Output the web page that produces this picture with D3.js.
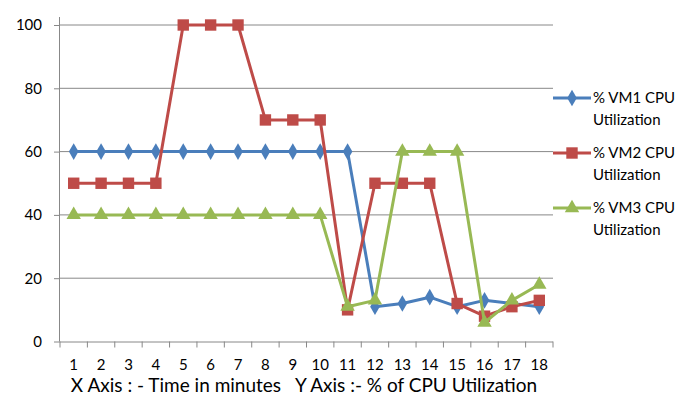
<!DOCTYPE html>
<html lang="en">
<head>
<meta charset="UTF-8">
<title>CPU Utilization</title>
<script src="https://d3js.org/d3.v7.min.js"></script>
<style>
    body { margin: 0; background: #fff; }
    text { font-family: Lato, "Liberation Sans", Arial, sans-serif; fill: #000; }
</style>
</head>
<body>
<svg width="696" height="403"></svg>
<script>
    // minutes on the x axis
    const minutes = [1, 2, 3, 4, 5, 6, 7, 8, 9, 10, 11, 12, 13, 14, 15, 16, 17, 18];
    const vm1 = [60, 60, 60, 60, 60, 60, 60, 60, 60, 60, 60, 11, 12, 14, 11, 13, 12, 11];
    const vm2 = [50, 50, 50, 50, 100, 100, 100, 70, 70, 70, 10, 50, 50, 50, 12, 8, 11, 13];
    const vm3 = [40, 40, 40, 40, 40, 40, 40, 40, 40, 40, 11, 13, 60, 60, 60, 6, 13, 18];
    const yTicks = [0, 20, 40, 60, 80, 100];
    const seriesNames = ["% VM1 CPU Utilization", "% VM2 CPU Utilization", "% VM3 CPU Utilization"];

    const svg = d3.select("svg");
    const plotLeft = 60, plotRight = 553, plotTop = 25, plotBottom = 341.5;

    const x = d3.scaleBand().domain(minutes).range([plotLeft, plotRight]);
    const y = d3.scaleLinear().domain([0, 100]).range([plotBottom, plotTop]);

    const series = [
        { name: seriesNames[0], values: vm1, color: "#4a7ebb", shape: d3.symbolDiamond, size: 80 },
        { name: seriesNames[1], values: vm2, color: "#be4b48", shape: d3.symbolSquare, size: 130 },
        { name: seriesNames[2], values: vm3, color: "#98b954", shape: d3.symbolTriangle, size: 90 }
    ];

    // gridlines
    svg.append("g").selectAll("line")
        .data(yTicks.filter(d => d > 0))
        .join("line")
        .attr("x1", plotLeft).attr("x2", plotRight)
        .attr("y1", d => y(d)).attr("y2", d => y(d))
        .attr("stroke", "#888").attr("stroke-width", 1);

    // y axis
    const yAxis = svg.append("g")
        .attr("transform", `translate(${plotLeft},0)`)
        .call(d3.axisLeft(y).tickValues(yTicks).tickSize(6).tickPadding(12));
    yAxis.select(".domain").attr("stroke", "#888").attr("d", `M-0.5,${plotBottom}V${plotTop - 8}`);
    yAxis.selectAll(".tick line").attr("stroke", "#888");
    yAxis.selectAll("text").style("font-size", "15px").attr("fill", "#111");

    // x axis
    const xAxis = svg.append("g")
        .attr("transform", `translate(0,${plotBottom})`)
        .call(d3.axisBottom(x).tickSize(0).tickPadding(18));
    xAxis.select(".domain").attr("stroke", "#888").attr("d", `M${plotLeft},0.5H${plotRight}`);
    xAxis.selectAll("text").style("font-size", "15px").attr("fill", "#111");
    // ticks between categories
    xAxis.append("g").selectAll("line")
        .data(minutes.concat([minutes.length + 1]))
        .join("line")
        .attr("x1", (d, i) => plotLeft + i * x.step()).attr("x2", (d, i) => plotLeft + i * x.step())
        .attr("y1", 0).attr("y2", 6)
        .attr("stroke", "#888");

    const line = d3.line()
        .x((d, i) => x(minutes[i]) + x.bandwidth() / 2)
        .y(d => y(d));

    series.forEach(s => {
        svg.append("path")
            .datum(s.values)
            .attr("fill", "none")
            .attr("stroke", s.color)
            .attr("stroke-width", 3)
            .attr("stroke-linejoin", "round")
            .attr("d", line);
        svg.append("g").selectAll("path")
            .data(s.values)
            .join("path")
            .attr("transform", (d, i) => `translate(${x(minutes[i]) + x.bandwidth() / 2},${y(d)})`)
            .attr("d", d3.symbol().type(s.shape).size(s.size))
            .attr("fill", s.color);
    });

    // legend
    const legend = svg.append("g").attr("transform", "translate(553,98)");
    series.forEach((s, i) => {
        const g = legend.append("g").attr("transform", `translate(0,${i * 55})`);
        g.append("line").attr("x1", 0).attr("x2", 38).attr("stroke", s.color).attr("stroke-width", 3);
        g.append("path").attr("transform", "translate(19,0)")
            .attr("d", d3.symbol().type(s.shape).size(s.size)).attr("fill", s.color);
        const words = s.name.split(" ");
        const t = g.append("text").attr("x", 40).attr("y", 5).style("font-size", "15px").attr("fill", "#111");
        t.append("tspan").attr("x", 40).text(words.slice(0, 3).join(" "));
        t.append("tspan").attr("x", 40).attr("dy", 22).text(words.slice(3).join(" "));
    });

    // axis title
    svg.append("text")
        .attr("x", 304).attr("y", 392)
        .attr("text-anchor", "middle")
        .style("font-size", "19px")
        .style("white-space", "pre")
        .attr("fill", "#111")
        .text("X Axis : - Time in minutes   Y Axis :- % of CPU Utilization");
</script>
</body>
</html>
